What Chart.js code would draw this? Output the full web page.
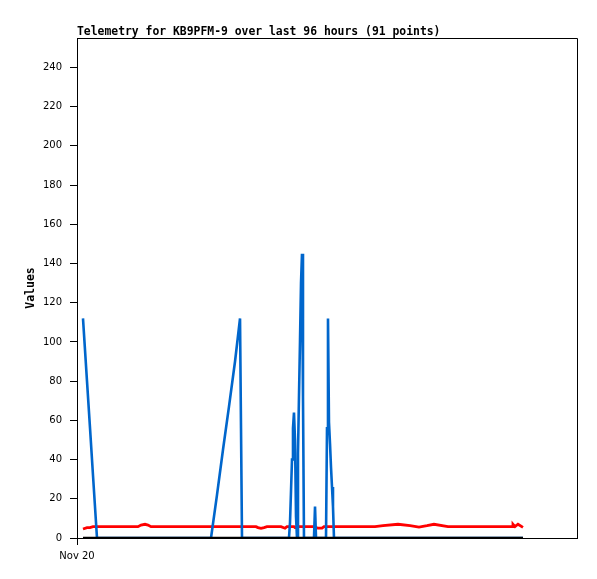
<!DOCTYPE html>
<html><head><meta charset="utf-8">
<script src="https://cdn.jsdelivr.net/npm/chart.js@4/dist/chart.umd.min.js"></script>
<style>html,body{margin:0;padding:0;background:#fff}#wrap{width:597px;height:579px}</style>
</head><body><div id="wrap"><canvas id="c" width="597" height="579"></canvas></div>
<script>
const titleText = "Telemetry for KB9PFM-9 over last 96 hours (91 points)";
const yAxisLabel = "Values";
const xTickLabels = ["Nov 20"];
const xTickHours = [0];
const yTickStep = 20;

const hours = [1.15,1.92,2.50,3.07,3.84,4.99,6.34,7.68,9.02,10.37,11.71,12.29,13.06,13.63,14.21,15.55,16.90,18.24,19.58,20.93,22.27,23.62,24.77,25.73,26.88,28.03,29.18,30.34,31.30,31.49,31.68,33.02,34.37,34.75,35.33,35.90,36.48,37.82,39.17,39.94,40.32,40.70,40.90,41.09,41.28,41.47,41.66,41.86,42.05,42.24,42.43,42.62,42.82,43.01,43.20,43.39,43.58,44.35,44.93,45.50,45.70,45.89,46.27,47.04,47.42,47.81,48.00,48.19,48.38,48.58,48.77,48.96,49.15,49.34,51.46,54.34,57.22,58.75,61.63,63.94,65.66,67.20,68.54,71.23,75.46,79.30,83.52,83.71,84.10,84.67,85.63];

const seriesBlue = [112,80,56,32,0,0,0,0,0,0,0,0,0,0,0,0,0,0,0,0,0,0,0,0,22,45,67,90,112,56,0,0,0,0,0,0,0,0,0,0,0,0,8,24,40,56,64,50,11,0,43,72,101,130,145,72,0,0,0,0,16,0,0,0,0,0,56,112,59,48,36,26,16,0,0,0,0,0,0,0,0,0,0,0,0,0,0,0,0,0,0];

const seriesRed = [4.6,5.3,5.3,5.8,5.8,5.8,5.8,5.8,5.8,5.8,5.8,6.6,7.0,6.6,5.8,5.8,5.8,5.8,5.8,5.8,5.8,5.8,5.8,5.8,5.8,5.8,5.8,5.8,5.8,5.8,5.8,5.8,5.8,5.3,4.9,5.3,5.8,5.8,5.8,5.0,5.8,5.8,5.8,5.8,5.8,5.8,5.8,5.3,5.3,5.8,5.8,5.8,5.8,5.8,5.8,5.8,5.8,5.8,5.8,5.8,5.8,5.3,5.0,5.0,5.8,5.8,5.8,5.8,5.8,5.8,5.8,5.8,5.8,5.8,5.8,5.8,5.8,6.3,7.0,6.3,5.6,6.3,7.0,5.8,5.8,5.8,5.8,7.0,5.8,7.0,5.4];

const seriesBlack = [0,0,0,0,0,0,0,0,0,0,0,0,0,0,0,0,0,0,0,0,0,0,0,0,0,0,0,0,0,0,0,0,0,0,0,0,0,0,0,0,0,0,0,0,0,0,0,0,0,0,0,0,0,0,0,0,0,0,0,0,0,0,0,0,0,0,0,0,0,0,0,0,0,0,0,0,0,0,0,0,0,0,0,0,0,0,0,0,0,0,0];

const pts = arr => hours.map((h, i) => ({x: h, y: arr[i]}));

const bgPlugin = {
  id: 'bg',
  beforeDraw(chart) {
    const c = chart.ctx;
    c.save(); c.fillStyle = '#fff'; c.fillRect(0, 0, chart.width, chart.height); c.restore();
  }
};
const framePlugin = {
  id: 'frame',
  afterDraw(chart) {
    const a = chart.chartArea, c = chart.ctx;
    c.save();
    c.strokeStyle = '#000'; c.lineWidth = 1;
    c.beginPath();
    c.moveTo(a.left + 0.5, a.top + 0.5);
    c.lineTo(a.right + 0.5, a.top + 0.5);
    c.lineTo(a.right + 0.5, a.bottom + 0.5);
    c.stroke();
    c.fillStyle = '#000';
    c.font = 'bold 11.4px "DejaVu Sans Mono"';
    c.textBaseline = 'alphabetic';
    c.textAlign = 'left';
    c.fillText(titleText, a.left, 35);
    c.restore();
  }
};

new Chart(document.getElementById('c').getContext('2d'), {
  type: 'line',
  data: {
    datasets: [
      {label: 'black', data: pts(seriesBlack), borderColor: '#000000', borderWidth: 2.5, pointRadius: 0, tension: 0, order: 0},
      {label: 'blue', data: pts(seriesBlue), borderColor: '#0066cc', borderWidth: 2.6, pointRadius: 0, tension: 0, order: 1},
      {label: 'red', data: pts(seriesRed), borderColor: '#ff0000', borderWidth: 2.8, pointRadius: 0, tension: 0, order: 2}
    ]
  },
  options: {
    responsive: false,
    animation: false,
    layout: {padding: {left: 0, right: 20, top: 38, bottom: 0}},
    plugins: {legend: {display: false}, tooltip: {enabled: false}, title: {display: false}},
    scales: {
      x: {
        type: 'linear', min: 0, max: 96,
        afterBuildTicks: s => { s.ticks = xTickHours.map(v => ({value: v})); },
        afterFit: s => { s.height = 41; },
        ticks: {
          callback: v => { const i = xTickHours.indexOf(v); return i >= 0 ? xTickLabels[i] : ''; },
          font: {family: 'DejaVu Sans', size: 10}, color: '#000', padding: 5, maxRotation: 0, autoSkip: false
        },
        grid: {drawOnChartArea: false, tickLength: 7, color: '#000'},
        border: {color: '#000'}
      },
      y: {
        min: 0, max: 255,
        afterFit: s => { s.width = 77; },
        ticks: {stepSize: yTickStep, includeBounds: false, font: {family: 'DejaVu Sans', size: 10}, color: '#000', padding: 8},
        grid: {drawOnChartArea: false, tickLength: 7, color: '#000'},
        border: {color: '#000'},
        title: {display: true, text: yAxisLabel, color: '#000', font: {family: 'DejaVu Sans Mono', size: 11.5, weight: 'bold'}, padding: {top: 24, bottom: 0}}
      }
    }
  },
  plugins: [bgPlugin, framePlugin]
});
</script></body></html>
